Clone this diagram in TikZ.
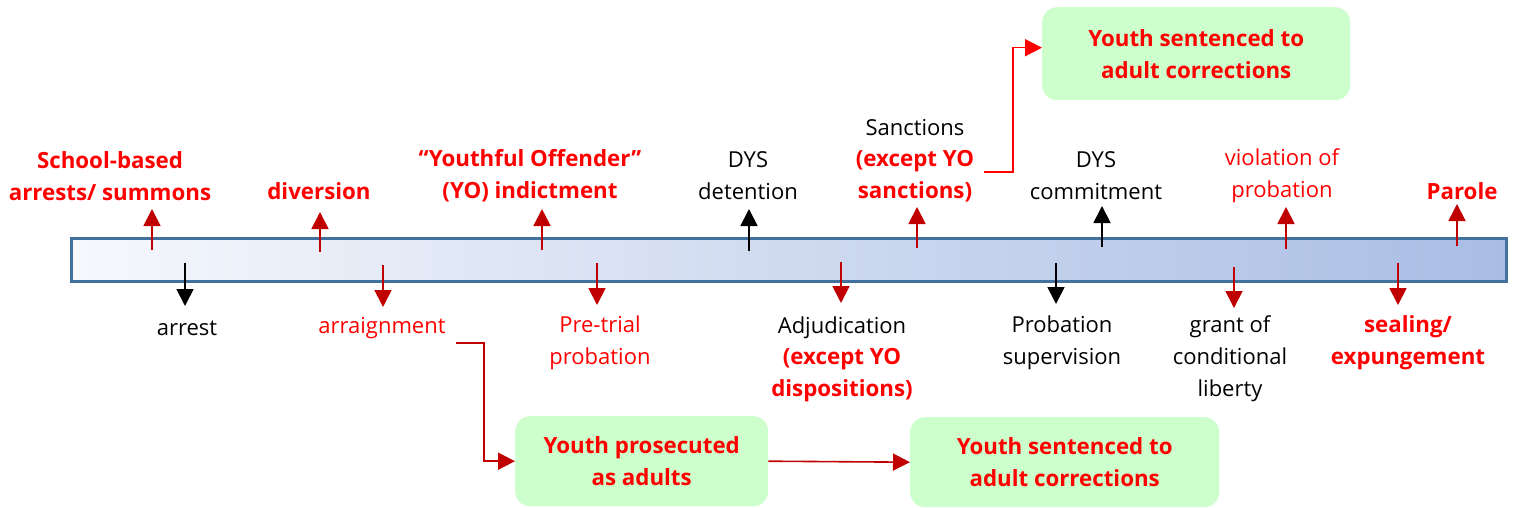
\documentclass[tikz,border=0pt]{standalone}
\usepackage{fontspec}
\setmainfont{Open Sans}
\usetikzlibrary{arrows.meta}
\definecolor{rd}{HTML}{FF0000}
\definecolor{drd}{HTML}{C00000}
\definecolor{grn}{HTML}{CCFFCC}
\definecolor{barL}{HTML}{F6F8FC}
\definecolor{barR}{HTML}{A9BDE4}
\definecolor{barB}{HTML}{41719C}
\tikzset{
  lbl/.style={font=\fontsize{22}{32}\selectfont, align=center, inner sep=0pt},
  rb/.style={lbl, text=rd, font=\fontsize{22.3}{32}\selectfont\bfseries},
  rn/.style={lbl, text=rd},
  bn/.style={lbl, text=black},
  rarr/.style={-{Triangle[width=17pt,length=17pt]}, line width=1.8pt, draw=drd},
  karr/.style={-{Triangle[width=17pt,length=17pt]}, line width=1.8pt, draw=black},
  gbox/.style={fill=grn, rounded corners=15pt, inner sep=0pt, align=center,
    font=\fontsize{22.3}{32}\selectfont\bfseries, text=rd},
  conn/.style={-{Triangle[width=17pt,length=17pt]}, line width=1.6pt, draw=drd},
  connb/.style={-{Triangle[width=17pt,length=17pt]}, line width=1.6pt, draw=rd},
}
\begin{document}
\begin{tikzpicture}[x=1pt,y=-1pt]
\useasboundingbox (0,0) rectangle (1513,508);
% bar
\node[draw=barB, line width=2.5pt, left color=barL, right color=barR,
  minimum width=1435pt, minimum height=43pt, anchor=north west, inner sep=0pt] (bar) at (70,237) {};
% top labels
\node[rb] (school) at (110,176) {School-based\\arrests/ summons};
\node[rb] (divers) at (319,191) {diversion};
\node[rb] (yo) at (530,176) {“Youthful Offender”\\(YO) indictment};
\node[bn] (dysdet) at (748,176) {DYS\\detention};
\node[bn] (sanc) at (915,128) {Sanctions};
\node[rb] (sancR) at (915,176) {(except YO\\sanctions)};
\node[bn] (dyscom) at (1096,176) {DYS\\commitment};
\node[rn] (viol) at (1282,176) {violation of\\probation};
\node[rb] (parole) at (1462,191) {Parole};
% bottom labels
\node[bn] (arrest) at (187,328) {arrest};
\node[rn] (arr) at (382,328) {arraignment};
\node[rn] (pretr) at (600,343) {Pre-trial\\probation};
\node[bn] (adj) at (842,328) {Adjudication};
\node[rb] (adjR) at (842,375) {(except YO\\dispositions)};
\node[bn] (probsup) at (1062,343) {Probation\\supervision};
\node[bn] (grant) at (1230,359) {grant of\\conditional\\liberty};
\node[rb] (seal) at (1408,343) {sealing/\\expungement};
% green boxes
\node[gbox, minimum width=308pt, minimum height=93pt, anchor=north west] (topbox) at (1042,7) {Youth sentenced to\\adult corrections};
\node[gbox, minimum width=253pt, minimum height=90pt, anchor=north west] (prosec) at (515,416) {Youth prosecuted\\as adults};
\node[gbox, minimum width=309pt, minimum height=90pt, anchor=north west] (sent2) at (910,417) {Youth sentenced to\\adult corrections};
% up arrows
\draw[rarr] (152,250) -- (152,209);
\draw[rarr] (320,252) -- (320,212);
\draw[rarr] (542,250) -- (542,209);
\draw[karr] (749,251) -- (749,209);
\draw[rarr] (917,248) -- (917,207);
\draw[karr] (1102,247) -- (1102,206);
\draw[rarr] (1286,249) -- (1286,207);
\draw[rarr] (1457,246) -- (1457,204);
% down arrows
\draw[karr] (185,263) -- (185,306);
\draw[rarr] (383,265) -- (383,307);
\draw[rarr] (597,263) -- (597,305);
\draw[rarr] (841,262) -- (841,303);
\draw[karr] (1056,263) -- (1056,304);
\draw[rarr] (1234,267) -- (1234,308);
\draw[rarr] (1398,263) -- (1398,305);
% connectors
\draw[connb] ([xshift=10pt,yshift=4pt]sancR.east) -| ([xshift=-29pt,yshift=6pt]topbox.west) -- ([yshift=6pt]topbox.west);
\draw[conn] ([xshift=10pt,yshift=-4pt]arr.south east) -| ([xshift=-31pt]prosec.west) -- (prosec.west);
\draw[conn] (prosec.east) -- (sent2.west);
\end{tikzpicture}
\end{document}
